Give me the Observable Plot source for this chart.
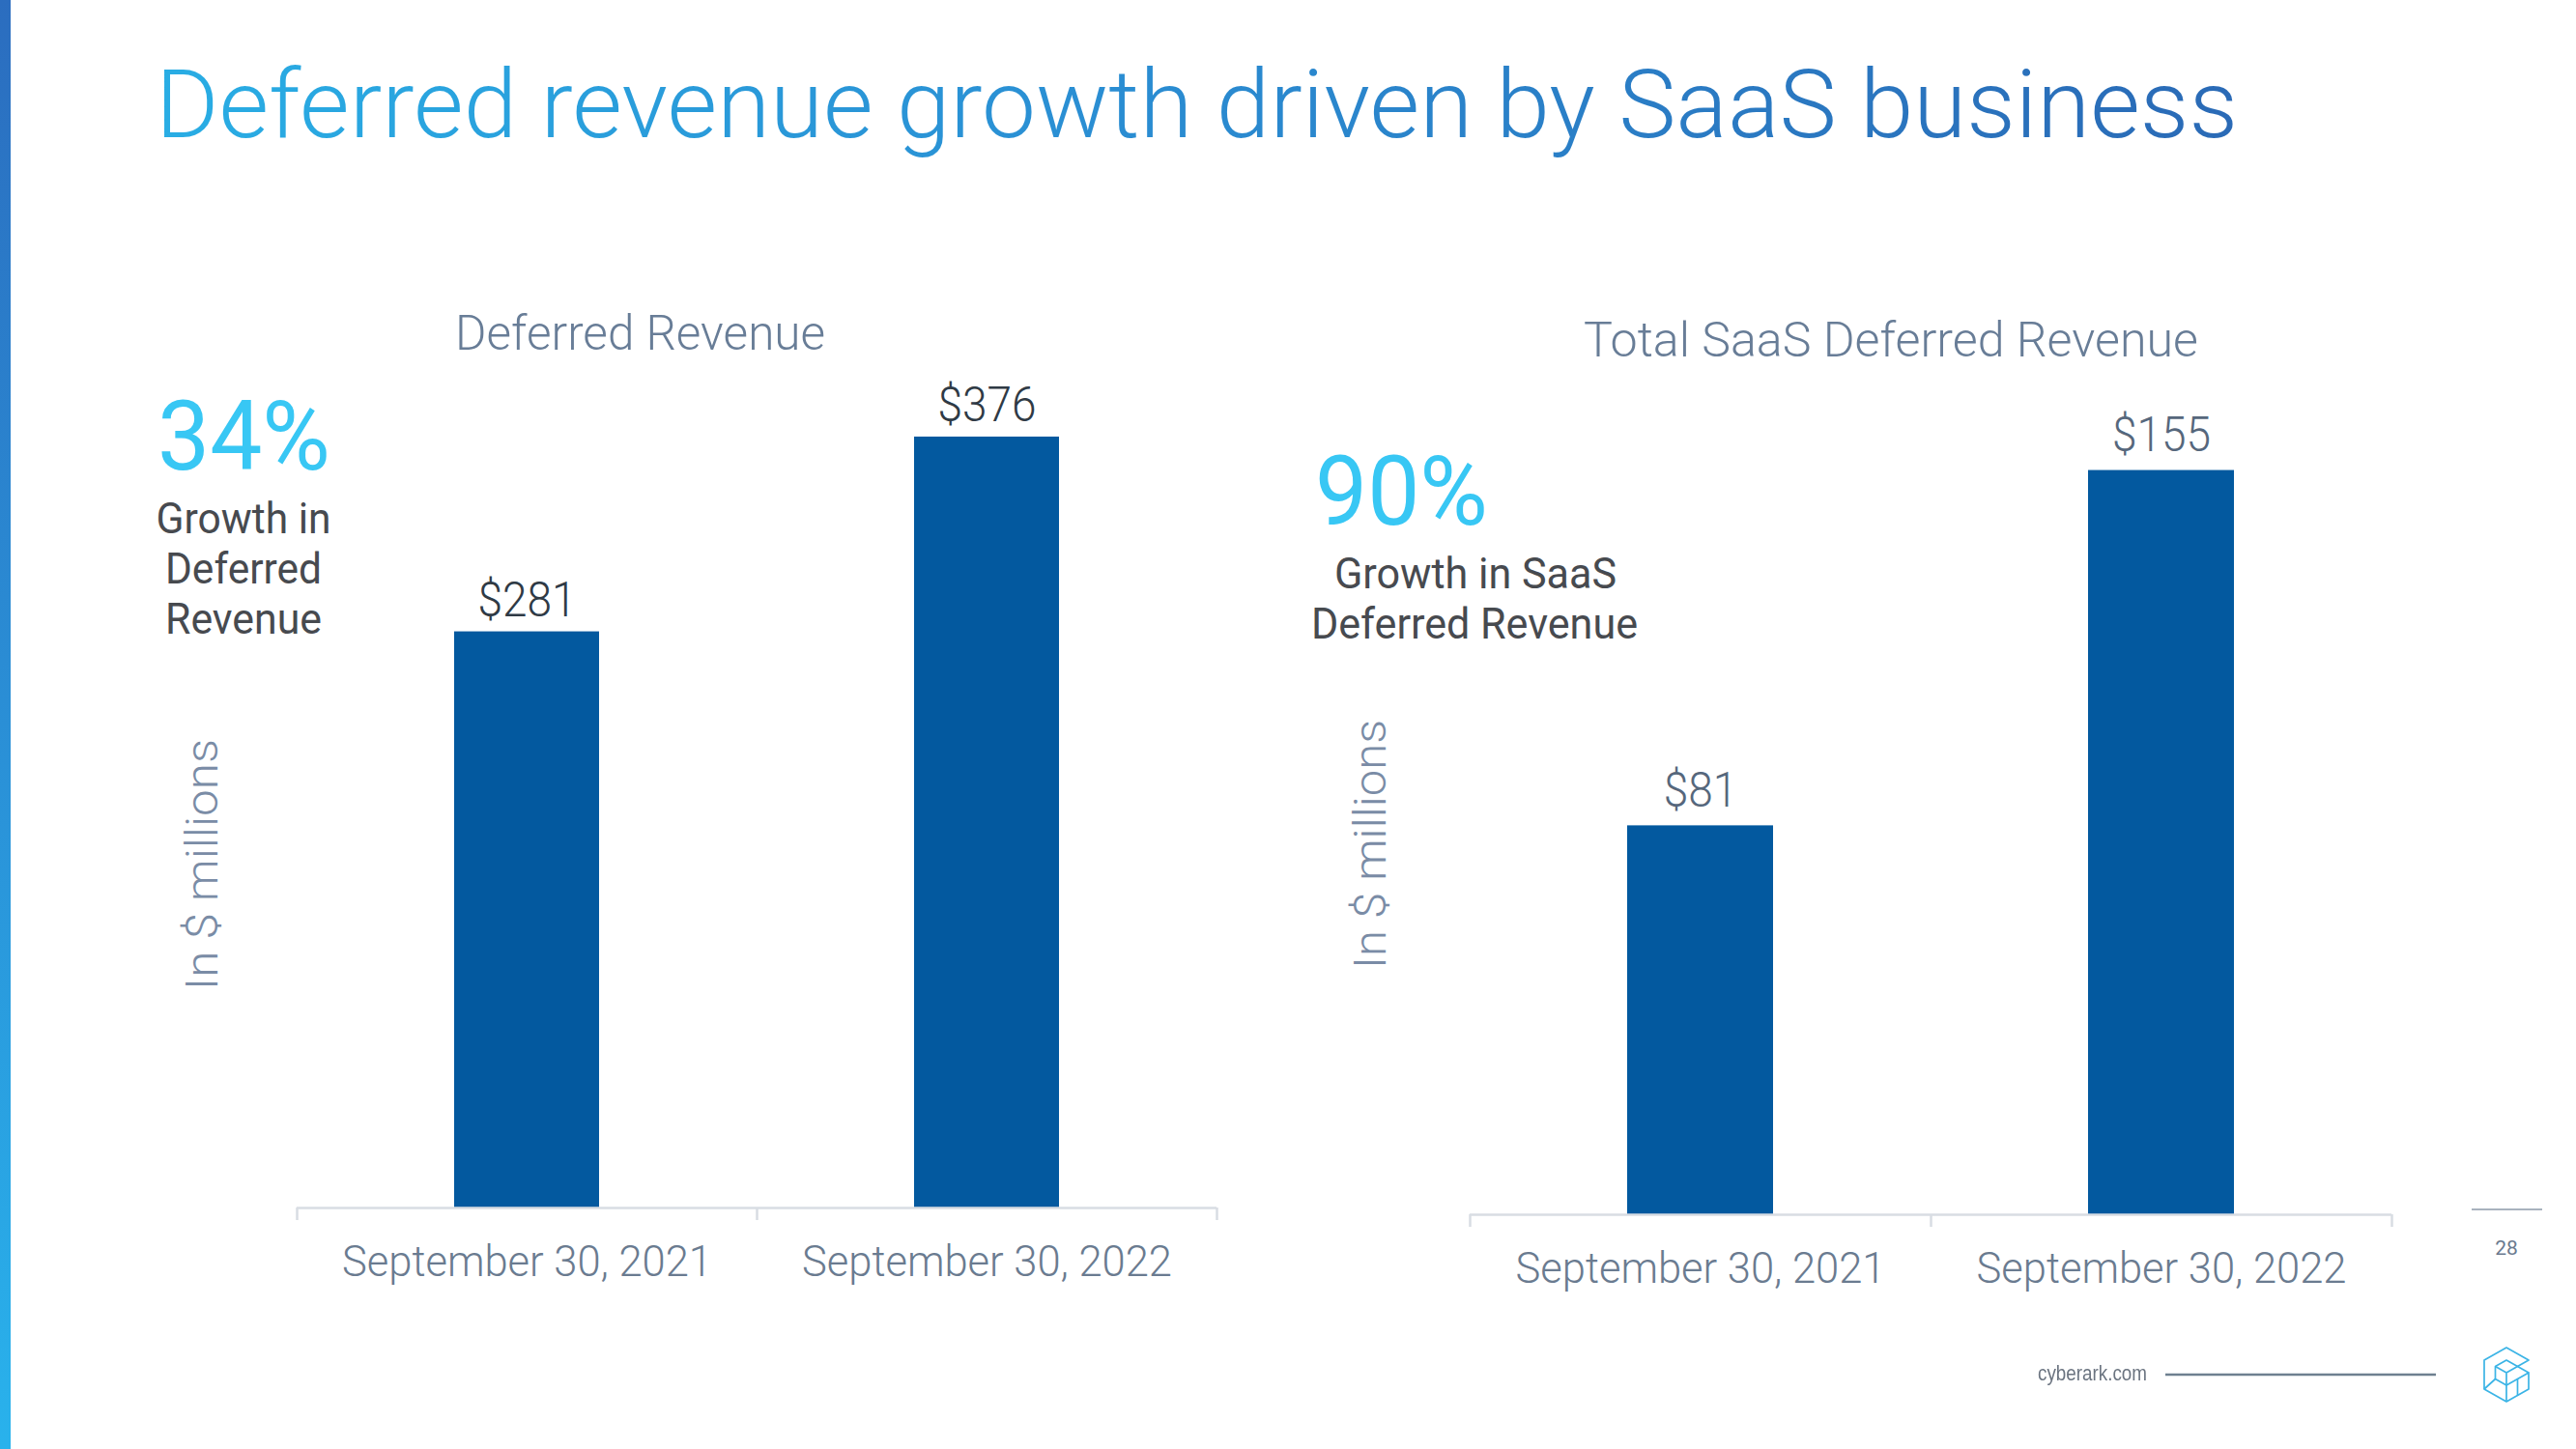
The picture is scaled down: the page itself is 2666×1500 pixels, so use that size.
<!DOCTYPE html>
<html>
<head>
<meta charset="utf-8">
<script src="https://cdn.jsdelivr.net/npm/d3@7"></script>
<script src="https://cdn.jsdelivr.net/npm/@observablehq/plot@0.6"></script>
<style>
html, body { margin: 0; padding: 0; background: #ffffff; }
#page { position: relative; width: 2666px; height: 1500px; overflow: hidden; background: #ffffff; font-family: Roboto, "Noto Sans", sans-serif; }
.t { position: absolute; white-space: nowrap; line-height: 1; }
#strip { position: absolute; left: 0; top: 0; width: 11px; height: 1500px; background: linear-gradient(180deg, #2b6dbf 0%, #2a8fd6 50%, #29b2ec 100%); }
svg.chart { position: absolute; }
</style>
</head>
<body>
<div id="page"><div id="strip"></div></div>
<script>
// ---- data ----
const categories = ["September 30, 2021", "September 30, 2022"];
const deferredRevenue = [281, 376];
const saasDeferredRevenue = [81, 155];
const chartTitles = ["Deferred Revenue", "Total SaaS Deferred Revenue"];
const growthValues = ["34%", "90%"];
const growthLinesLeft = ["Growth in", "Deferred", "Revenue"];
const growthLinesRight = ["Growth in SaaS", "Deferred Revenue"];
const unitLabel = "In $ millions";
const pageTitle = "Deferred revenue growth driven by SaaS business";
const pageNumber = "28";
const siteLabel = "cyberark.com";

// ---- styles ----
const barColor = "#03599f";
const axisColor = "#d8dde3";
const tickColor = "#6a7b90";
const subtitleColor = "#687d97";
const unitColor = "#7a8ca6";
const growthColor = "#38c7f4";
const growthTextColor = "#474a4f";
const SVGNS = "http://www.w3.org/2000/svg";

const page = document.getElementById("page");

function label(text, o) {
  const el = document.createElement("div");
  el.className = "t";
  el.textContent = text;
  el.style.fontSize = o.size + "px";
  el.style.fontWeight = o.weight ?? 400;
  el.style.fontFamily = o.family ?? "Roboto, sans-serif";
  if (o.color) el.style.color = o.color;
  if (o.css) Object.assign(el.style, o.css);
  page.appendChild(el);
  const w = el.getBoundingClientRect().width;
  const s = o.width ? o.width / w : (o.scale ?? 1);
  if (o.rotate) {
    el.style.left = (o.x - w / 2) + "px";
    el.style.top = (o.y - o.size / 2) + "px";
    el.style.transformOrigin = "50% 50%";
    el.style.transform = `rotate(-90deg) scaleX(${s})`;
  } else {
    const left = o.anchor === "middle" ? o.x - w / 2 : o.anchor === "end" ? o.x - w : o.x;
    el.style.left = left + "px";
    el.style.top = (o.baseline - 0.842 * o.size) + "px";
    el.style.transformOrigin = o.anchor === "middle" ? "50% 0" : o.anchor === "end" ? "100% 0" : "0 0";
    el.style.transform = `scaleX(${s})`;
  }
  return el;
}

function barChart(values, cfg) {
  const rows = categories.map((name, i) => ({i, name, value: values[i]}));
  const svg = Plot.plot({
    width: cfg.width,
    height: cfg.height,
    marginLeft: 50,
    marginRight: 50,
    marginTop: cfg.marginTop,
    marginBottom: 100,
    style: {fontFamily: "Roboto, sans-serif", background: "transparent", overflow: "visible"},
    x: {type: "linear", domain: [0, categories.length], label: null},
    y: {domain: [0, cfg.yMax], axis: null},
    marks: [
      Plot.rect(rows, {x1: "i", x2: d => d.i + 1, y1: 0, y2: "value", fill: barColor, insetLeft: 163, insetRight: 163}),
      Plot.ruleY([0], {stroke: axisColor, strokeWidth: 2.5}),
      Plot.axisX({ticks: d3.range(categories.length + 1), tickSize: 13, tickFormat: () => "", stroke: axisColor, strokeWidth: 2.5, label: null}),
      Plot.axisX({ticks: rows.map(d => d.i + 0.5), tickFormat: t => categories[Math.floor(t)], tickSize: 0, tickPadding: 39, fontSize: 45, fontWeight: 300, fill: tickColor, label: null}),
      Plot.text(rows, {x: d => d.i + 0.5, y: "value", text: d => "$" + d.value, dy: cfg.labelOffset, lineAnchor: "bottom", fontSize: 50, fontWeight: 300, fill: cfg.valueColor})
    ]
  });
  svg.classList.add("chart");
  svg.style.left = cfg.left + "px";
  svg.style.top = cfg.top + "px";
  page.appendChild(svg);
  svg.querySelectorAll("text").forEach(t => {
    const s = t.textContent;
    if (!s) return;
    const len = t.getComputedTextLength();
    if (categories.includes(s)) {
      t.setAttribute("textLength", 383);
      t.setAttribute("lengthAdjust", "spacingAndGlyphs");
    } else if (s.startsWith("$")) {
      t.setAttribute("textLength", len * 0.92);
      t.setAttribute("lengthAdjust", "spacingAndGlyphs");
    }
  });
  return svg;
}

// ---- charts ----
barChart(deferredRevenue, {left: 257, top: 390, width: 1052, height: 960, marginTop: 11, yMax: 400, valueColor: "#2f3a45", labelOffset: -16});
barChart(saasDeferredRevenue, {left: 1471, top: 400, width: 1054, height: 957, marginTop: 12, yMax: 170, valueColor: "#56677c", labelOffset: -20});

// ---- title ----
label(pageTitle, {x: 161, baseline: 143, size: 98, weight: 300, width: 2155,
  css: {background: "linear-gradient(90deg, #29ade4 0%, #2a8ed3 45%, #2a6ab6 100%)", WebkitBackgroundClip: "text", backgroundClip: "text", color: "transparent", paddingBottom: "20px"}});

// ---- chart subtitles ----
label(chartTitles[0], {x: 663, baseline: 362, size: 50, weight: 300, color: subtitleColor, anchor: "middle", width: 383});
label(chartTitles[1], {x: 1957, baseline: 369, size: 50, weight: 300, color: subtitleColor, anchor: "middle", width: 636});

// ---- unit labels ----
label(unitLabel, {x: 209, y: 895, size: 46, weight: 300, color: unitColor, rotate: true, width: 260});
label(unitLabel, {x: 1418, y: 874, size: 46, weight: 300, color: unitColor, rotate: true, width: 258});

// ---- footer text ----
label(pageNumber, {x: 2594, baseline: 1300, size: 21, weight: 400, color: "#6b7a8f", anchor: "middle"});
label(siteLabel, {x: 2109, baseline: 1430, size: 22, weight: 400, family: "'Liberation Sans', Arial, sans-serif", color: "#6b7480", width: 113});

// ---- overlay: growth callouts and decorations ----
const deco = document.createElementNS(SVGNS, "svg");
deco.setAttribute("width", 2666);
deco.setAttribute("height", 1500);
deco.style.position = "absolute";
deco.style.left = "0px";
deco.style.top = "0px";
deco.style.pointerEvents = "none";
deco.innerHTML = `
  <line x1="2558" y1="1252" x2="2631" y2="1252" stroke="#8d9aa8" stroke-width="1.5"/>
  <line x1="2241" y1="1423" x2="2521" y2="1423" stroke="#6e8090" stroke-width="2.5"/>
  <g transform="translate(2569,1394) scale(0.5)" fill="none" stroke="#3bb4e6" stroke-width="3.4" stroke-linejoin="round">
    <path d="M50 2 L96 28 L73 41 L50 28 L27 41 L27 67 L50 80 L73 67 L96 54 L96 88 L50 114 L4 88 L4 28 Z"/>
    <path d="M27 41 L50 54 L73 41 M50 54 L50 80 M4 88 L27 67 M50 80 L50 114 M73 67 L73 101 M96 54 L73 41"/>
  </g>`;
page.appendChild(deco);

function callout(lines) {
  const text = document.createElementNS(SVGNS, "text");
  text.setAttribute("font-family", "Roboto, sans-serif");
  deco.appendChild(text);
  lines.forEach(l => {
    const ts = document.createElementNS(SVGNS, "tspan");
    ts.textContent = l.text;
    ts.setAttribute("x", l.x);
    ts.setAttribute("y", l.baseline);
    ts.setAttribute("font-size", l.size);
    ts.setAttribute("font-weight", l.weight ?? 400);
    ts.setAttribute("fill", l.color);
    ts.setAttribute("text-anchor", l.anchor ?? "start");
    text.appendChild(ts);
    if (l.width) {
      ts.setAttribute("textLength", l.width);
      ts.setAttribute("lengthAdjust", "spacingAndGlyphs");
    }
  });
  return text;
}

callout([
  {text: growthValues[0], x: 163, baseline: 486, size: 101, color: growthColor, width: 179},
  {text: growthLinesLeft[0], x: 252, baseline: 552, size: 44, color: growthTextColor, anchor: "middle", width: 181},
  {text: growthLinesLeft[1], x: 252, baseline: 604, size: 44, color: growthTextColor, anchor: "middle", width: 162},
  {text: growthLinesLeft[2], x: 252, baseline: 656, size: 44, color: growthTextColor, anchor: "middle", width: 162}
]);
callout([
  {text: growthValues[1], x: 1361, baseline: 543, size: 101, color: growthColor, width: 179},
  {text: growthLinesRight[0], x: 1527, baseline: 609, size: 44, color: growthTextColor, anchor: "middle", width: 292},
  {text: growthLinesRight[1], x: 1526, baseline: 661, size: 44, color: growthTextColor, anchor: "middle", width: 338}
]);
</script>
</body>
</html>
